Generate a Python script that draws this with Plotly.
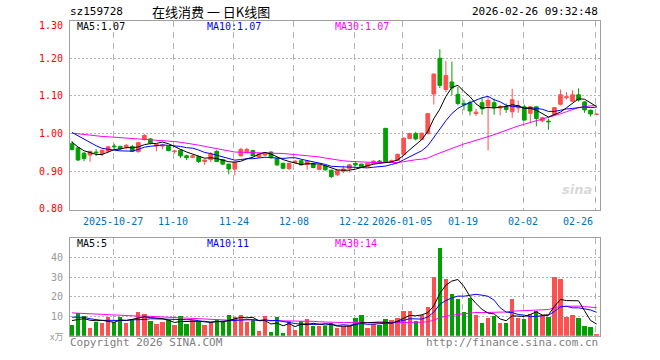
import plotly.graph_objects as go
import pandas as pd

# ---------------- data ----------------
opens = [0.973,0.962,0.948,0.943,0.951,0.947,0.953,0.967,0.966,0.965,
         0.966,0.952,0.984,0.986,0.967,0.967,0.966,0.952,0.956,0.941,
         0.937,0.939,0.926,0.931,0.953,0.931,0.919,0.906,0.941,0.949,
         0.955,0.938,0.943,0.951,0.934,0.921,0.907,0.923,0.928,0.918,
         0.921,0.905,0.914,0.903,0.891,0.900,0.908,0.921,0.919,0.913,
         0.921,0.927,1.014,0.926,0.929,0.945,0.987,1.000,0.985,1.000,
         1.105,1.200,1.117,1.137,1.104,1.080,1.082,1.053,1.082,1.073,
         1.082,1.068,1.071,1.058,1.068,1.071,1.054,1.071,1.034,1.033,
         1.051,1.078,1.095,1.086,1.103,1.084,1.062,1.051]
highs = [0.980,0.964,0.951,0.954,0.959,0.957,0.966,0.973,0.968,0.973,
         0.970,0.978,0.999,0.988,0.973,0.973,0.968,0.957,0.958,0.944,
         0.944,0.941,0.931,0.951,0.956,0.932,0.920,0.925,0.962,0.962,
         0.957,0.949,0.950,0.953,0.936,0.923,0.923,0.929,0.930,0.929,
         0.923,0.918,0.916,0.904,0.904,0.915,0.919,0.924,0.920,0.922,
         0.929,0.930,1.014,0.931,0.947,0.990,1.002,1.005,1.003,1.055,
         1.160,1.224,1.193,1.191,1.124,1.090,1.088,1.066,1.096,1.097,
         1.093,1.076,1.080,1.119,1.088,1.077,1.073,1.073,1.044,1.040,
         1.071,1.117,1.110,1.115,1.120,1.086,1.064,1.053]
lows = [0.955,0.927,0.927,0.925,0.940,0.940,0.950,0.959,0.957,0.958,
        0.953,0.950,0.982,0.971,0.953,0.958,0.953,0.947,0.935,0.930,
        0.936,0.922,0.917,0.925,0.925,0.917,0.892,0.889,0.939,0.948,
        0.940,0.936,0.940,0.934,0.914,0.905,0.903,0.921,0.915,0.904,
        0.908,0.903,0.901,0.882,0.887,0.895,0.897,0.913,0.910,0.911,
        0.920,0.921,0.923,0.922,0.927,0.943,0.985,0.982,0.983,0.998,
        1.077,1.121,1.110,1.102,1.075,1.062,1.048,1.047,1.050,0.955,
        1.050,1.048,1.055,1.042,1.055,1.034,1.030,1.019,1.030,1.010,
        1.048,1.075,1.091,1.084,1.085,1.055,1.045,1.050]
closes = [0.958,0.930,0.934,0.953,0.949,0.956,0.965,0.965,0.960,0.969,
          0.953,0.976,0.995,0.975,0.971,0.970,0.955,0.954,0.941,0.936,
          0.941,0.926,0.930,0.946,0.926,0.919,0.906,0.924,0.958,0.958,
          0.941,0.946,0.948,0.936,0.917,0.908,0.921,0.927,0.917,0.927,
          0.910,0.916,0.904,0.886,0.902,0.906,0.917,0.917,0.912,0.921,
          0.927,0.925,0.925,0.928,0.945,0.988,1.000,0.986,1.001,1.053,
          1.158,1.128,1.154,1.121,1.080,1.076,1.060,1.057,1.066,1.088,
          1.069,1.072,1.064,1.090,1.074,1.036,1.071,1.040,1.042,1.031,
          1.069,1.103,1.098,1.103,1.089,1.063,1.052,1.052]
volumes = [5.3,11.8,10.3,3.8,7.3,6.3,9.8,7.3,9.8,6.3,
           8.8,12.3,11.3,7.8,5.8,6.8,8.3,5.3,10.3,5.8,
           8.3,7.3,5.3,7.3,8.3,7.3,10.8,9.8,10.8,7.3,
           8.3,2.3,10.3,1.8,9.8,1.3,7.8,2.8,7.8,8.8,
           4.8,4.8,4.8,6.3,3.8,4.8,4.8,9.3,10.8,3.8,
           5.8,5.3,8.8,8.3,9.3,12.8,12.8,7.8,10.8,14.8,
           30.3,44.8,28.8,21.3,18.8,12.3,19.3,10.8,6.3,9.3,
           10.3,6.3,6.3,18.8,9.3,8.8,11.3,12.8,10.8,9.8,
           30.3,29.3,9.8,10.8,9.3,4.8,4.3,0.8]
# closes / volumes of the sessions just before the window (estimated, feed the MAs)
prior_close = [0.992,0.998,1.004,1.001,0.995,0.990,0.996,1.003,1.008,1.005,
               0.999,0.994,0.997,1.002,1.006,1.010,1.004,0.998,1.001,1.006,
               1.022,1.031,1.036,1.030,1.025,0.995,0.984,0.978,0.972]
prior_vol = [14.2,11.5,13.8,12.1,10.9,15.3,12.6,11.8,13.4,12.9,
             14.6,11.2,12.3,13.7,12.0,11.6,13.1,14.0,12.4,12.8,
             10.6,12.1,11.4,10.8,11.3,9.1,8.2,7.9,8.5]

tick_index = [7, 17, 27, 37, 47, 55, 65, 75, 87]
tick_labels = ["2025-10-27", "11-10", "11-24", "12-08", "12-22",
               "2026-01-05", "01-19", "02-02", "02-26"]
price_ticks = [0.80, 0.90, 1.00, 1.10, 1.20, 1.30]
vol_ticks = [10, 20, 30, 40]

# ---------------- derived ----------------
n = len(closes)
idx = list(range(n))
cs = pd.Series(prior_close + closes)
vs = pd.Series(prior_vol + volumes)
k = len(prior_close)
ma = {p: cs.rolling(p, min_periods=1).mean().tolist()[k:] for p in (5, 10, 30)}
vma = {p: vs.rolling(p, min_periods=1).mean().tolist()[k:] for p in (5, 10, 30)}

RED = "#ff5050"
GREEN = "#00a000"
up = [c >= o for o, c in zip(opens, closes)]
cols = [RED if u else GREEN for u in up]

W, H = 660, 360
L, R = 70, 600
MT, MB = 21, 212.5
VT, VB = 241, 340.5
def px(x): return x / W
def py(y): return 1 - y / H

xr = [-0.33, 87.56]
fig = go.Figure()

# wicks
for colr, flag in ((RED, True), (GREEN, False)):
    wx, wy = [], []
    for i in idx:
        if up[i] == flag:
            wx += [i, i, None]
            wy += [lows[i], highs[i], None]
    fig.add_trace(go.Scatter(x=wx, y=wy, mode="lines", line=dict(color=colr, width=1),
                             xaxis="x", yaxis="y", hoverinfo="skip", showlegend=False))
# bodies
fig.add_trace(go.Bar(x=idx, y=[abs(c - o) for o, c in zip(opens, closes)],
                     base=[min(o, c) for o, c in zip(opens, closes)],
                     width=0.62, marker=dict(color=cols, line=dict(color=cols, width=1)),
                     xaxis="x", yaxis="y", hoverinfo="skip", showlegend=False))
# price MAs
for p, c in ((30, "#ff00ff"), (10, "#0000ff"), (5, "#000000")):
    fig.add_trace(go.Scatter(x=idx, y=ma[p], mode="lines", line=dict(color=c, width=1),
                             xaxis="x", yaxis="y", hoverinfo="skip", showlegend=False))
# volume
fig.add_trace(go.Bar(x=idx, y=volumes, width=0.72, marker=dict(color=cols, line=dict(width=0)),
                     xaxis="x2", yaxis="y2", hoverinfo="skip", showlegend=False))
for p, c in ((30, "#ff00ff"), (10, "#0000ff"), (5, "#000000")):
    fig.add_trace(go.Scatter(x=idx, y=vma[p], mode="lines", line=dict(color=c, width=1),
                             xaxis="x2", yaxis="y2", hoverinfo="skip", showlegend=False))

GRID = "#b4b4b4"
BORDER = "#a0a0a0"
MONO = "DejaVu Sans Mono"
xcommon = dict(range=xr, tickmode="array", tickvals=[t - 0.2 for t in tick_index],
               showticklabels=False, ticks="", showgrid=True, gridcolor=GRID,
               griddash="6px,5px", gridwidth=1, zeroline=False, showline=True,
               linecolor=BORDER, linewidth=1, mirror=True, fixedrange=True)
fig.update_layout(
    width=W, height=H, margin=dict(l=0, r=0, t=0, b=0), autosize=False,
    paper_bgcolor="white", plot_bgcolor="white", barmode="overlay", bargap=0,
    showlegend=False,
    xaxis=dict(domain=[px(L), px(R)], anchor="y", **xcommon),
    xaxis2=dict(domain=[px(L), px(R)], anchor="y2", matches="x", **xcommon),
    yaxis=dict(domain=[py(MB), py(MT)], anchor="x", range=[0.7984, 1.2997],
               tickmode="array", tickvals=price_ticks[:-1],
               ticktext=[f"{v:.2f}" for v in price_ticks[:-1]],
               tickfont=dict(family=MONO, size=10, color="#ff0000"),
               showgrid=True, gridcolor=GRID, griddash="2px,2px", zeroline=False,
               showline=True, linecolor=BORDER, mirror=True, ticks="", ticklabelstandoff=4,
               fixedrange=True),
    yaxis2=dict(domain=[py(VB), py(VT)], anchor="x2", range=[0, 50.2],
                tickmode="array", tickvals=vol_ticks, ticktext=[str(v) for v in vol_ticks],
                tickfont=dict(family=MONO, size=10, color="#999999"),
                showgrid=True, gridcolor=GRID, griddash="2px,2px", zeroline=False,
                showline=True, linecolor=BORDER, mirror=True, ticks="", ticklabelstandoff=4,
                fixedrange=True),
)

ann = []
def text(x, y, s, color="#000000", size=10, anchor="left", family=MONO, **kw):
    ann.append(dict(x=px(x), y=py(y), xref="paper", yref="paper", text=s, showarrow=False,
                    xanchor=anchor, yanchor="middle", font=dict(family=family, size=size, color=color), **kw))

text(68, 12, "sz159728", size=11)
text(150, 12, "在线消费 一 日K线图", size=13, family="Noto Sans CJK SC")
text(600, 12, "2026-02-26 09:32:48", size=11, anchor="right")
text(65, 26, "1.30", color="#ff0000", anchor="right")
text(75, 27, "MA5:1.07")
text(205, 27, "MA10:1.07", color="#0000ff")
text(333, 27, "MA30:1.07", color="#ff00ff")
text(75, 247, "MA5:5")
text(205, 247, "MA10:11", color="#0000ff")
text(333, 247, "MA30:14", color="#ff00ff")
text(68, 347, "Copyright 2026 SINA.COM", color="#808080", size=11)
text(600, 347, "http://finance.sina.com.cn", color="#808080", size=11, anchor="right")
text(65, 341, "x万", color="#999999", anchor="right", family="Noto Sans CJK SC", size=9)
text(594, 192, "<i><b>sina</b></i>", color="#d8d8d8", size=13, anchor="right", family="DejaVu Sans")
for t, lab in zip(tick_index, tick_labels):
    ann.append(dict(x=t - 0.2, y=py(225), xref="x", yref="paper", text=lab, showarrow=False,
                    xanchor="right" if t == tick_index[-1] else "center", yanchor="middle",
                    font=dict(family=MONO, size=10, color="#0070c0")))
fig.update_layout(annotations=ann)

fig.write_html("out.html", config={"displayModeBar": False, "staticPlot": True})
